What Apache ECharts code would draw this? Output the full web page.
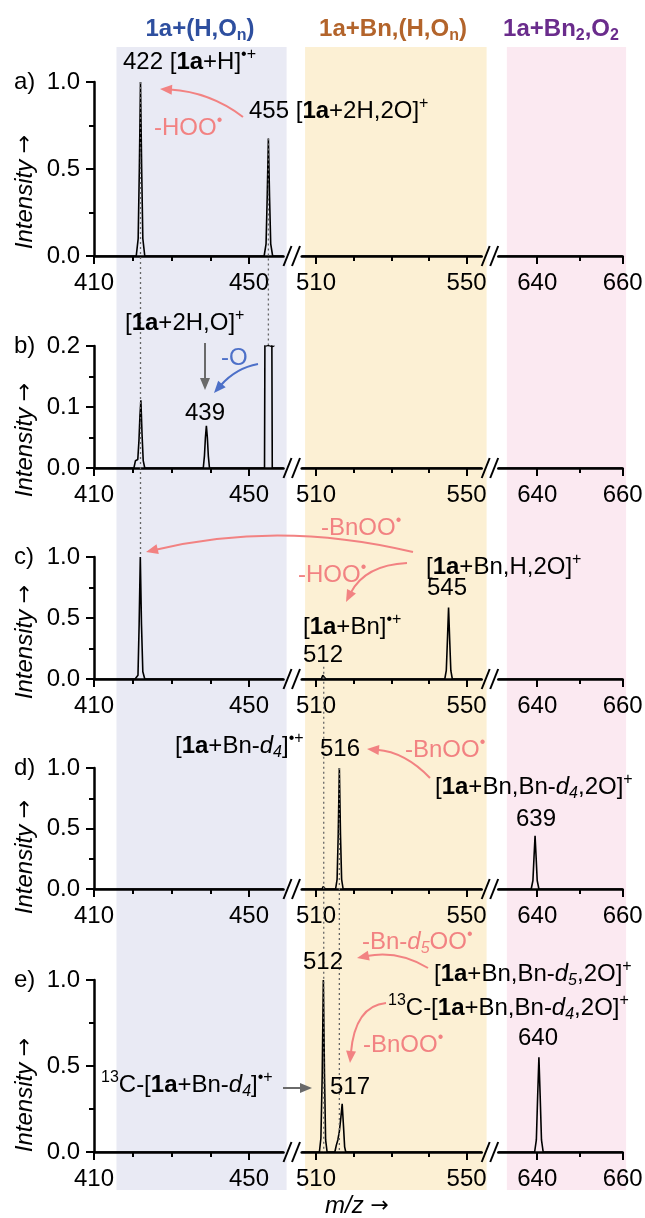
<!DOCTYPE html>
<html><head><meta charset="utf-8">
<script src="https://cdn.jsdelivr.net/npm/echarts@6/dist/echarts.min.js"></script>
<style>html,body{margin:0;padding:0;background:#fff}#c{width:645px;height:1218px}</style>
</head><body><div id="c"></div>
<script>
// ---------------- DATA ----------------
const segRanges = [[410, 458.9], [506.2, 554], [630.9, 660]];
const majorTicks = [[410, 450], [510, 550], [640, 660]];
const minorTicks = [[420, 430, 440], [520, 530, 540], [650]];
const panelLabels = ['a)', 'b)', 'c)', 'd)', 'e)'];
const yMax = [1.0, 0.2, 1.0, 1.0, 1.0];
const yStep = [0.5, 0.1, 0.5, 0.5, 0.5];

const spectrumA = [[410,0],[420.9,0],[421.4,0.1],[421.7,0.5],[422,1.0],[422.3,0.5],[422.6,0.1],[423.1,0],
  [453.9,0],[454.4,0.07],[454.7,0.34],[455,0.675],[455.3,0.34],[455.6,0.07],[456.1,0],[458.9,0],
  [506.2,0],[554,0],[630.9,0],[660,0]];
const spectrumB = [[410,0],[420.3,0],[420.7,0.012],[421.3,0.014],[421.6,0.045],[421.85,0.085],[422.1,0.111],[422.4,0.055],[422.7,0.012],[423.1,0],
  [438.2,0],[438.5,0.02],[438.75,0.05],[439,0.069],[439.25,0.05],[439.5,0.02],[439.8,0],
  [454,0],[454.3,0.6],[454.6,1.2],[455.4,1.2],[455.7,0.6],[456,0],[458.9,0],
  [506.2,0],[554,0],[630.9,0],[660,0]];
const spectrumC = [[410,0],[420.6,0],[421,0.015],[421.35,0.03],[421.65,0.45],[421.95,1.0],[422.25,0.45],[422.6,0.06],[423.1,0],[458.9,0],
  [506.2,0],[511.4,0],[511.8,0.03],[512,0.045],[512.2,0.03],[512.6,0],
  [544.2,0],[544.6,0.07],[544.9,0.32],[545.2,0.586],[545.5,0.32],[545.8,0.07],[546.2,0],[554,0],
  [630.9,0],[660,0]];
const spectrumD = [[410,0],[458.9,0],
  [506.2,0],[511.6,0],[511.9,0.02],[512.2,0.02],[512.5,0],
  [515.2,0],[515.6,0.08],[515.9,0.45],[516.2,1.0],[516.5,0.45],[516.8,0.08],[517.2,0],[554,0],
  [630.9,0],[638.6,0],[639,0.07],[639.25,0.26],[639.5,0.44],[639.75,0.26],[640,0.07],[640.4,0],[660,0]];
const spectrumE = [[410,0],[458.9,0],
  [506.2,0],[510.9,0],[511.3,0.08],[511.65,0.45],[511.95,1.0],[512.25,0.45],[512.55,0.07],[512.95,0],
  [515,0],[515.4,0.04],[515.8,0.07],[516.2,0.12],[516.6,0.2],[516.95,0.28],[517.3,0.15],[517.6,0.03],[517.9,0],[554,0],
  [630.9,0],[639.4,0],[639.8,0.07],[640.1,0.32],[640.4,0.55],[640.7,0.32],[641,0.07],[641.4,0],[660,0]];
const spectra = [spectrumA, spectrumB, spectrumC, spectrumD, spectrumE];

// background regions (segment index, m/z from, m/z to)
const bandRanges = [[0, 415.8, 459.7], [1, 507.1, 555.3], [2, 632.9, 660.8]];
// dotted guide lines: segment, m/z, fromPanel, fromIntensity, toPanel, toIntensity
const guideLines = [[0, 422, 0, 1.0, 2, 1.0], [0, 455, 0, 0.675, 1, 0.2], [1, 512.05, 2, 0.1, 4, 0], [1, 516.2, 3, 1.0, 4, 0]];

// ---------------- LAYOUT / STYLE ----------------
const FF = '"Liberation Sans", Arial, sans-serif';
const FS = 24;
const panelTop = [82, 346, 557, 768, 980];
const panelBottom = [256, 468, 679, 889, 1152];
const segLeft = [94, 301.7, 498.3];
const segRight = [283.5, 481.7, 622.7];
const bandColors = ['#e9eaf4', '#fcf0d4', '#fbe9f1'];
const SALMON = '#f28282', BLUE = '#4d70c8', GRAY = '#6a6a6a';

const chart = echarts.init(document.getElementById('c'));
const grids = [], xAxes = [], yAxes = [], series = [];
for (let p = 0; p < 5; p++) {
  for (let s = 0; s < 3; s++) {
    const g = p * 3 + s;
    grids.push({left: segLeft[s], top: panelTop[p], width: segRight[s] - segLeft[s],
      height: panelBottom[p] - panelTop[p], outerBoundsMode: 'none', containLabel: false});
    xAxes.push({type: 'value', gridIndex: g, min: segRanges[s][0], max: segRanges[s][1], position: 'bottom',
      axisLine: {show: true, onZero: false, lineStyle: {color: '#000', width: 2.5}},
      axisTick: {show: true, customValues: majorTicks[s], length: 8, lineStyle: {color: '#000', width: 2}},
      axisLabel: {show: true, customValues: majorTicks[s], fontSize: FS, fontFamily: FF, color: '#000', margin: 15},
      splitLine: {show: false}});
    xAxes.push({type: 'value', gridIndex: g, min: segRanges[s][0], max: segRanges[s][1], position: 'bottom',
      axisLine: {show: false, onZero: false},
      axisTick: {show: true, customValues: minorTicks[s], length: 5, lineStyle: {color: '#000', width: 2}},
      axisLabel: {show: false}, splitLine: {show: false}});
    yAxes.push({type: 'value', gridIndex: g, min: 0, max: yMax[p], interval: yStep[p], show: s === 0,
      axisLine: {show: true, lineStyle: {color: '#000', width: 2.5}},
      axisTick: {show: true, length: 8, lineStyle: {color: '#000', width: 2}},
      minorTick: {show: true, splitNumber: 2, length: 5, lineStyle: {color: '#000', width: 2}},
      axisLabel: {fontSize: FS, fontFamily: FF, color: '#000', margin: 14, formatter: v => v.toFixed(1)},
      splitLine: {show: false}, minorSplitLine: {show: false}});
    const lo = segRanges[s][0], hi = segRanges[s][1];
    series.push({type: 'line', xAxisIndex: 2 * g, yAxisIndex: g, silent: true,
      data: spectra[p].filter(d => d[0] >= lo && d[0] <= hi),
      showSymbol: false, symbol: 'none', clip: true, z: 3, animation: false,
      lineStyle: {color: '#000', width: 1.6}});
  }
}
chart.setOption({animation: false, grid: grids, xAxis: xAxes, yAxis: yAxes, series: series});

// ---------------- ANNOTATIONS ----------------
const X = (s, v) => chart.convertToPixel({xAxisIndex: 2 * s}, v);
const Y = (p, v) => chart.convertToPixel({yAxisIndex: 3 * p}, v);

function richFor(color, size, bold) {
  const w = bold ? 'bold' : 'normal', ss = Math.round(size * 0.65);
  return {
    b: {fill: color, fontFamily: FF, fontSize: size, fontWeight: 'bold', lineHeight: 30},
    i: {fill: color, fontFamily: FF, fontSize: size, fontWeight: w, fontStyle: 'italic', lineHeight: 30},
    sup: {fill: color, fontFamily: FF, fontSize: ss, fontWeight: w, lineHeight: ss, verticalAlign: 'top'},
    sub: {fill: color, fontFamily: FF, fontSize: ss, fontWeight: w, lineHeight: ss, verticalAlign: 'bottom'},
    isub: {fill: color, fontFamily: FF, fontSize: ss, fontWeight: w, fontStyle: 'italic', lineHeight: ss, verticalAlign: 'bottom'},
    arr: {fill: color, fontFamily: '"DejaVu Sans", sans-serif', fontSize: size - 2, fontWeight: 'normal', fontStyle: 'normal', lineHeight: 30}
  };
}
function txt(x, y, text, o) {
  o = o || {};
  const color = o.color || '#000', size = o.size || FS, align = o.align || 'left';
  return {type: 'text', x: x, y: y, rotation: o.rot || 0, z: 30, silent: true,
    style: {text: text, fill: color, fontSize: size, fontFamily: FF,
      fontWeight: o.bold ? 'bold' : 'normal', fontStyle: o.italic ? 'italic' : 'normal',
      align: align, textAlign: align, verticalAlign: 'middle', textVerticalAlign: 'middle',
      lineHeight: 30, rich: richFor(color, size, o.bold)}};
}
function arrow(x1, y1, cx, cy, x2, y2, color, w) {
  const a = Math.atan2(y2 - cy, x2 - cx), L = 12, W = 5;
  const bx = x2 - Math.cos(a) * L, by = y2 - Math.sin(a) * L;
  return [
    {type: 'bezierCurve', z: 25, silent: true,
      shape: {x1: x1, y1: y1, x2: bx + Math.cos(a) * 2, y2: by + Math.sin(a) * 2, cpx1: cx, cpy1: cy},
      style: {stroke: color, lineWidth: w || 2, fill: 'none'}},
    {type: 'polygon', z: 25, silent: true,
      shape: {points: [[x2, y2], [bx - Math.sin(a) * W, by + Math.cos(a) * W], [bx + Math.sin(a) * W, by - Math.cos(a) * W]]},
      style: {fill: color}}
  ];
}

const els = [];
// bands
bandRanges.forEach((b, k) => {
  const x0 = X(b[0], b[1]), x1 = X(b[0], b[2]);
  els.push({type: 'rect', z: -10, silent: true, shape: {x: x0, y: 47, width: x1 - x0, height: 1143},
    style: {fill: bandColors[k]}});
});
// dotted guides
guideLines.forEach(d => {
  const x = X(d[0], d[1]);
  els.push({type: 'line', z: 20, silent: true,
    shape: {x1: x, y1: Y(d[2], d[3]), x2: x, y2: Y(d[4], d[5])},
    style: {stroke: '#666', lineWidth: 1.3, lineDash: [2, 3]}});
});
// axis breaks
for (let p = 0; p < 5; p++) {
  const yb = panelBottom[p];
  [0, 1].forEach(s => {
    const x0 = segRight[s];
    [0, 8.5].forEach(off => {
      els.push({type: 'line', z: 20, silent: true,
        shape: {x1: x0 + off, y1: yb + 10, x2: x0 + off + 8, y2: yb - 10},
        style: {stroke: '#000', lineWidth: 2}});
    });
  });
  els.push(txt(14, panelTop[p], panelLabels[p]));
}
// y titles
[192, 440, 642, 857, 1095].forEach(cy => els.push(txt(25, cy, 'Intensity {arr|→}', {italic: true, align: 'center', rot: Math.PI / 2})));
els.push(txt(357, 1206, 'm/z {arr|→}', {italic: true, align: 'center'}));
// group titles
els.push(txt(200, 29, '1a+(H,O{sub|n})', {bold: true, color: '#2e4f9f', align: 'center'}));
els.push(txt(393, 29, '1a+Bn,(H,O{sub|n})', {bold: true, color: '#b3642b', align: 'center'}));
els.push(txt(561, 29, '1a+Bn{sub|2},O{sub|2}', {bold: true, color: '#6a2c8c', align: 'center'}));

// panel a
els.push(txt(123, 62, '422 [{b|1a}+H]{sup|•+}'));
els.push(txt(249, 111, '455 [{b|1a}+2H,2O]{sup|+}'));
els.push(txt(154, 128, '-HOO{sup|•}', {color: SALMON}));
els.push(...arrow(243, 117, 210, 92, 160, 89, SALMON));
// panel b
els.push(txt(125, 323, '[{b|1a}+2H,O]{sup|+}'));
els.push(...arrow(205, 343, 205, 366, 205, 390, GRAY));
els.push(txt(221, 358, '-O', {color: BLUE}));
els.push(...arrow(258, 364, 236, 368, 214, 393, BLUE));
els.push(txt(205, 413, '439', {align: 'center'}));
els.push(txt(270, 347, '~', {align: 'center', size: 18}));
// panel c
els.push(txt(321, 528, '-BnOO{sup|•}', {color: SALMON}));
els.push(...arrow(413, 552, 280, 520, 146, 552, SALMON));
els.push(txt(426, 567, '[{b|1a}+Bn,H,2O]{sup|+}'));
els.push(txt(298, 575, '-HOO{sup|•}', {color: SALMON}));
els.push(...arrow(407, 563, 365, 565, 346, 602, SALMON));
els.push(txt(447, 588, '545', {align: 'center'}));
els.push(txt(303, 627, '[{b|1a}+Bn]{sup|•+}'));
els.push(txt(323, 655, '512', {align: 'center'}));
// panel d
els.push(txt(175, 746, '[{b|1a}+Bn-{i|d}{isub|4}]{sup|•+}'));
els.push(txt(320, 749, '516'));
els.push(txt(405, 750, '-BnOO{sup|•}', {color: SALMON}));
els.push(...arrow(430, 778, 405, 752, 367, 749, SALMON));
els.push(txt(435, 787, '[{b|1a}+Bn,Bn-{i|d}{isub|4},2O]{sup|+}'));
els.push(txt(536, 819, '639', {align: 'center'}));
// panel e
els.push(txt(362, 942, '-Bn-{i|d}{isub|5}OO{sup|•}', {color: SALMON}));
els.push(txt(303, 962, '512'));
els.push(...arrow(428, 968, 398, 950, 357, 958, SALMON));
els.push(txt(434, 974, '[{b|1a}+Bn,Bn-{i|d}{isub|5},2O]{sup|+}'));
els.push(txt(388, 1008, '{sup|13}C-[{b|1a}+Bn,Bn-{i|d}{isub|4},2O]{sup|+}'));
els.push(...arrow(386, 1003, 355, 1006, 350, 1063, SALMON));
els.push(txt(363, 1045, '-BnOO{sup|•}', {color: SALMON}));
els.push(txt(101, 1085, '{sup|13}C-[{b|1a}+Bn-{i|d}{isub|4}]{sup|•+}'));
els.push(...arrow(283, 1088, 297, 1088, 312, 1088, GRAY));
els.push(txt(330, 1087, '517'));
els.push(txt(538, 1038, '640', {align: 'center'}));

chart.setOption({graphic: {elements: els}});
</script></body></html>
